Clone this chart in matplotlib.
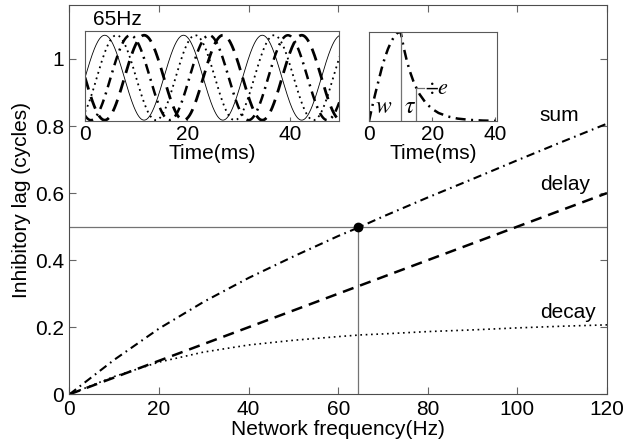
import numpy as np
import matplotlib
matplotlib.use("Agg")
import matplotlib.pyplot as plt

plt.rcParams['font.family'] = ['Liberation Sans', 'DejaVu Sans']
plt.rcParams['font.size'] = 15
plt.rcParams['mathtext.fontset'] = 'stix'

# main curves (lag in cycles vs network frequency)
freq = [0, 10, 20, 30, 40, 50, 60, 65, 70, 80, 90, 100, 110, 120]
lag_delay = [0, 0.05, 0.10, 0.15, 0.20, 0.25, 0.30, 0.325, 0.35, 0.40, 0.45, 0.50, 0.55, 0.60]
lag_decay = [0, 0.053, 0.096, 0.126, 0.147, 0.161, 0.172, 0.177, 0.180, 0.187, 0.192, 0.198, 0.203, 0.207]
lag_sum = [0, 0.103, 0.196, 0.276, 0.347, 0.411, 0.472, 0.500, 0.530, 0.587, 0.642, 0.698, 0.753, 0.807]
f_cross = 64.5
lag_cross = 0.5

# inset 1: 65Hz oscillations, lags in ms
osc_freq = 65
osc_lags = [0, 2.3, 5.0, 7.7]
osc_styles = ['solid', 'dotted', 'dashdot', 'dashed']

# inset 2: synaptic kernel
kern_t = [0, 1, 2, 3, 4, 5, 6, 7, 8, 9, 10, 11, 12, 13, 14, 15, 16, 18, 20, 22, 25, 28, 32, 36, 40]
kern_v = [0, 0.16, 0.31, 0.45, 0.59, 0.71, 0.81, 0.89, 0.95, 0.99, 1.0, 0.82, 0.67, 0.55, 0.45,
          0.37, 0.30, 0.20, 0.135, 0.09, 0.05, 0.027, 0.012, 0.005, 0.002]
w_ms = 10
tau_ms = 5

dash_dot = (0, (4, 2.2, 0.8, 2.2))
dash = (0, (4.5, 2.8))
dot = (0, (1, 2.2))

fig = plt.figure(figsize=(6.26, 4.44), dpi=100)
ax = fig.add_axes([0.111, 0.112, 0.8586, 0.876])

ax.axhline(lag_cross, color='0.45', lw=0.9)
ax.plot([f_cross, f_cross], [0, lag_cross], color='0.45', lw=0.9)
ax.plot(freq, lag_sum, color='k', lw=1.5, linestyle=dash_dot)
ax.plot(freq, lag_delay, color='k', lw=1.8, linestyle=dash)
ax.plot(freq, lag_decay, color='k', lw=1.2, linestyle=dot)
ax.plot([f_cross], [lag_cross], 'o', color='k', ms=6)

ax.text(105, 0.83, 'sum', va='center')
ax.text(105, 0.625, 'delay', va='center')
ax.text(105, 0.245, 'decay', va='center')

ax.set_xlim(0, 120)
ax.set_ylim(0, 1.16)
ax.set_xticks([0, 20, 40, 60, 80, 100, 120])
ax.set_yticks([0, 0.2, 0.4, 0.6, 0.8, 1])
ax.set_yticklabels(['0', '0.2', '0.4', '0.6', '0.8', '1'])
ax.tick_params(direction='in', top=True, right=True, length=5, color='0.4', pad=4)
for s in ax.spines.values():
    s.set_color('0.3')
    s.set_linewidth(0.8)
ax.set_xlabel('Network frequency(Hz)', labelpad=1)
ax.set_ylabel('Inhibitory lag (cycles)', labelpad=3)

# inset 1
ax1 = fig.add_axes([0.1358, 0.7275, 0.4058, 0.2027])
t = np.linspace(0, 50, 600)
for lag, st in zip(osc_lags, osc_styles):
    y = np.sin(2 * np.pi * osc_freq / 1000 * (t - lag))
    if st == 'solid':
        ax1.plot(t, y, color='k', lw=0.6)
    elif st == 'dotted':
        ax1.plot(t, y, color='k', lw=1.3, linestyle=dot)
    elif st == 'dashdot':
        ax1.plot(t, y, color='k', lw=1.8, linestyle=dash_dot)
    else:
        ax1.plot(t, y, color='k', lw=2.0, linestyle=dash)
ax1.set_xlim(0, 49.6)
ax1.set_ylim(-1.02, 1.1)
ax1.set_yticks([])
ax1.set_xticks([0, 20, 40])
ax1.tick_params(direction='in', length=3, color='0.4', pad=3)
ax1.set_xlabel('Time(ms)', labelpad=0)
ax1.text(0.03, 1.02, '65Hz', transform=ax1.transAxes, va='bottom')
for s in ax1.spines.values():
    s.set_color('0.35')
    s.set_linewidth(0.8)

# inset 2
ax2 = fig.add_axes([0.5895, 0.7275, 0.2045, 0.2005])
ax2.plot(kern_t, kern_v, color='k', lw=1.8, linestyle=dash_dot)
e_level = kern_v[kern_t.index(w_ms + tau_ms)]
ax2.plot([w_ms, w_ms], [0, 1], color='0.45', lw=0.9)
ax2.plot([w_ms + tau_ms, w_ms + tau_ms, w_ms + tau_ms + 2.4], [0, e_level, e_level], color='0.45', lw=0.9)
ax2.text(2.0, 0.03, '$w$', fontsize=17, va='bottom')
ax2.text(11.0, 0.03, r'$\tau$', fontsize=17, va='bottom')
ax2.text(17.6, e_level, r'$\div e$', fontsize=16, va='center')
ax2.set_xlim(0, 40.5)
ax2.set_ylim(0, 1.0)
ax2.set_yticks([])
ax2.set_xticks([0, 20, 40])
ax2.tick_params(direction='in', length=3, color='0.4', pad=3)
ax2.set_xlabel('Time(ms)', labelpad=0)
for s in ax2.spines.values():
    s.set_color('0.35')
    s.set_linewidth(0.8)

fig.savefig('out.png', dpi=100)
